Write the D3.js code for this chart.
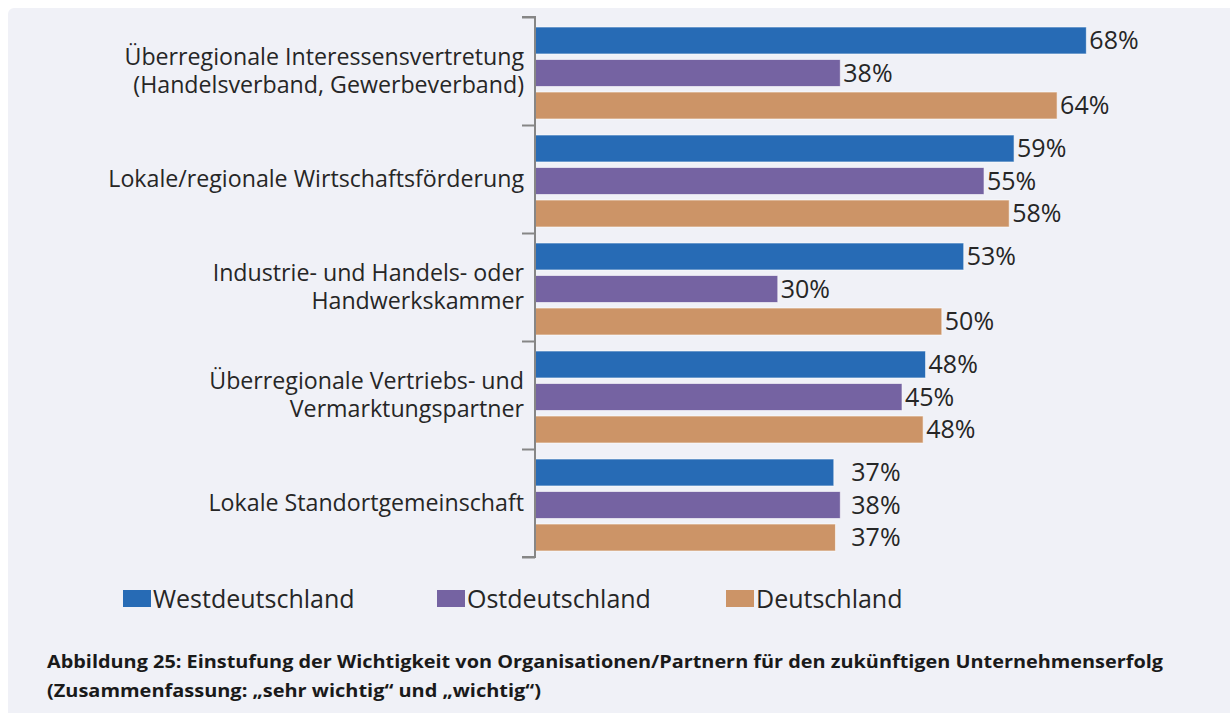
<!DOCTYPE html>
<meta charset="utf-8">
<html>
<head>
    <title>Abbildung 25</title>
    <script src="https://d3js.org/d3.v7.min.js"></script>
    <style>
        body {
            margin: 0;
            background-color: white;
        }

        .cat-label, .value-label, .legend-label {
            font-family: "Open Sans", "Noto Sans", sans-serif;
            fill: #262626;
        }

        .caption {
            font-family: "Open Sans", "Noto Sans", sans-serif;
            font-weight: bold;
            fill: #1a1a1a;
        }
    </style>
</head>

<body>
    <svg id="svg"></svg>

    <script>
        // categories (top to bottom), each may have two lines
        const categories = [
            ['Überregionale Interessensvertretung', '(Handelsverband, Gewerbeverband)'],
            ['Lokale/regionale Wirtschaftsförderung'],
            ['Industrie- und Handels- oder', 'Handwerkskammer'],
            ['Überregionale Vertriebs- und', 'Vermarktungspartner'],
            ['Lokale Standortgemeinschaft']
        ]

        const seriesNames = ['Westdeutschland', 'Ostdeutschland', 'Deutschland']
        const seriesColors = ['#276bb5', '#7563a2', '#cc9467']

        // percent values
        const westValues = [67.9, 59.0, 52.8, 48.1, 36.8]
        const ostValues = [37.6, 55.3, 29.9, 45.2, 37.6]
        const deValues = [64.3, 58.4, 50.1, 47.8, 37.0]

        const captionLines = [
            'Abbildung 25: Einstufung der Wichtigkeit von Organisationen/Partnern für den zukünftigen Unternehmenserfolg',
            '(Zusammenfassung: „sehr wichtig“ und „wichtig“)'
        ]
        const captionWidths = [1116, 494]

        const width = 1230
        const height = 713

        const svg = d3.select('#svg')
            .attr('width', width)
            .attr('height', height)

        // grey panel behind chart
        svg.append('rect')
            .attr('x', 8)
            .attr('y', 8)
            .attr('width', width + 20)
            .attr('height', height + 20)
            .attr('rx', 6)
            .attr('fill', '#f0f1f7')

        const allValues = [westValues, ostValues, deValues]

        // scales
        const x = d3.scaleLinear()
            .domain([0, 100])
            .range([535, 535 + 812])

        const y = d3.scaleBand()
            .domain(d3.range(categories.length))
            .range([17, 557])

        const yInner = d3.scaleBand()
            .domain(d3.range(seriesNames.length))
            .range([10, 102])
            .paddingInner(0.17)

        const yEdges = d3.scaleLinear()
            .domain([0, categories.length])
            .range([17, 557])

        // bars
        const groups = svg.selectAll('.group')
            .data(categories)
            .enter()
            .append('g')
            .attr('class', 'group')
            .attr('transform', (d, i) => 'translate(0,' + y(i) + ')')

        groups.each(function (cat, ci) {
            const g = d3.select(this)
            const rows = allValues.map((vals, si) => ({ si: si, v: vals[ci] }))
            // labels of the shortest group sit a bit further out, like in the original
            const labelMin = d3.max(rows, d => x(d.v)) + 3

            g.selectAll('rect')
                .data(rows)
                .enter()
                .append('rect')
                .attr('x', x(0))
                .attr('y', d => yInner(d.si))
                .attr('width', d => x(d.v) - x(0))
                .attr('height', yInner.bandwidth())
                .attr('fill', d => seriesColors[d.si])
                .attr('stroke', 'rgba(255,255,255,0.6)')
                .attr('stroke-width', 1)

            g.selectAll('.value-label')
                .data(rows)
                .enter()
                .append('text')
                .attr('class', 'value-label')
                .attr('x', d => ci === categories.length - 1 ? labelMin + 8 : x(d.v) + 3)
                .attr('y', d => yInner(d.si) + yInner.bandwidth() / 2)
                .attr('dy', '0.35em')
                .style('font-size', '25px')
                .text(d => Math.round(d.v) + '%')

            // category label
            const label = g.append('text')
                .attr('class', 'cat-label')
                .attr('text-anchor', 'end')
                .style('font-size', '23.2px')
            cat.forEach((line, li) => {
                label.append('tspan')
                    .attr('x', 524)
                    .attr('y', y.bandwidth() / 2 + (li - (cat.length - 1) / 2) * 28)
                    .attr('dy', '0.35em')
                    .text(line)
            })
        })

        // axis with ticks at category boundaries
        const axis = d3.axisLeft(yEdges)
            .ticks(categories.length)
            .tickSize(13)
            .tickFormat('')

        const axisG = svg.append('g')
            .attr('transform', 'translate(535,0)')
            .call(axis)
        axisG.select('.domain')
            .attr('stroke', '#868686')
            .attr('stroke-width', 2)
            .attr('d', 'M-13,17H0V557H-13')
        axisG.selectAll('.tick line')
            .attr('stroke', '#868686')
            .attr('stroke-width', 2)

        // legend
        const legendX = [123, 437, 726]
        const legend = svg.selectAll('.legend')
            .data(seriesNames)
            .enter()
            .append('g')
            .attr('class', 'legend')
            .attr('transform', (d, i) => 'translate(' + legendX[i] + ',590)')

        legend.append('rect')
            .attr('width', 28)
            .attr('height', 17)
            .attr('fill', (d, i) => seriesColors[i])

        legend.append('text')
            .attr('class', 'legend-label')
            .attr('x', 30)
            .attr('y', 9)
            .attr('dy', '0.35em')
            .style('font-size', '25px')
            .text(d => d)

        // caption
        svg.selectAll('.caption')
            .data(captionLines)
            .enter()
            .append('text')
            .attr('class', 'caption')
            .attr('x', 47)
            .attr('y', (d, i) => 668 + i * 29)
            .attr('textLength', (d, i) => captionWidths[i])
            .attr('lengthAdjust', 'spacingAndGlyphs')
            .style('font-size', '18px')
            .text(d => d)
    </script>
</body>
</html>
